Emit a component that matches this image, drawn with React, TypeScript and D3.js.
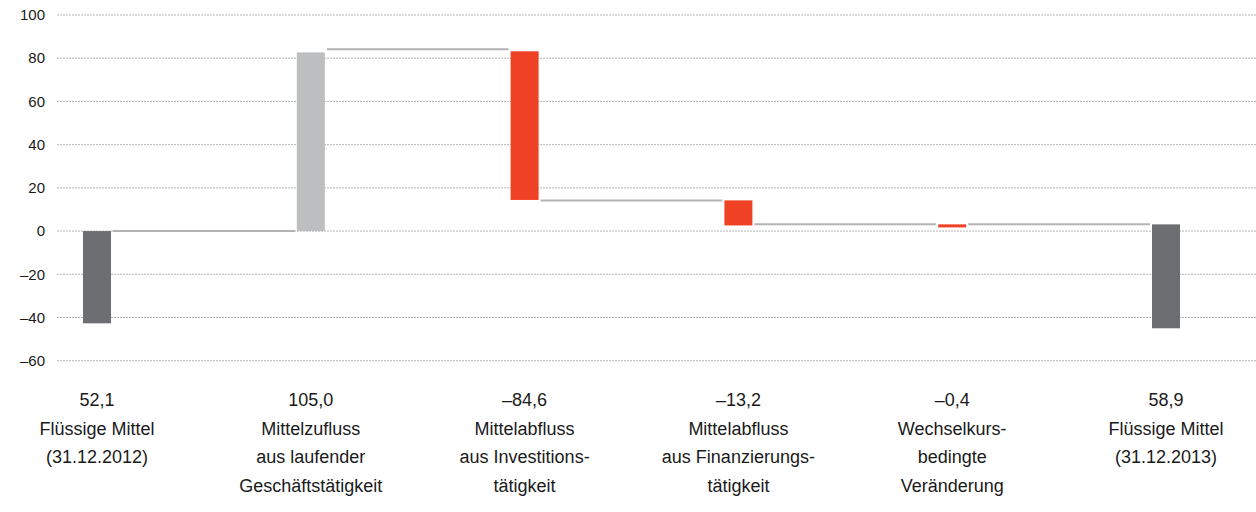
import React, { useEffect } from 'react';
import * as d3 from 'd3';

// waterfall: Kapitalflussrechnung (Mio. EUR)
const categories = ['fm2012', 'zufluss', 'invest', 'finanz', 'fx', 'fm2013'];
const valueLabels = ['52,1', '105,0', '\u201384,6', '\u201313,2', '\u20130,4', '58,9'];
const nameLines = [
  ['Flüssige Mittel', '(31.12.2012)'],
  ['Mittelzufluss', 'aus laufender', 'Geschäftstätigkeit'],
  ['Mittelabfluss', 'aus Investitions-', 'tätigkeit'],
  ['Mittelabfluss', 'aus Finanzierungs-', 'tätigkeit'],
  ['Wechselkurs-', 'bedingte', 'Veränderung'],
  ['Flüssige Mittel', '(31.12.2013)'],
];
// bar extents as drawn in the picture
const barFrom = [0, 0, 83.2, 14.2, 3.1, 3.1];
const barTo = [-42.7, 82.7, 14.4, 2.6, 1.7, -45];
const barKind = ['total', 'plus', 'minus', 'minus', 'minus', 'total'];
const connectorLevels = [0, 84.1, 14.2, 3.1, 3.1];
const yTicks = [100, 80, 60, 40, 20, 0, -20, -40, -60];

const colors: Record<string, string> = {
  total: '#6d6e71',
  plus: '#bcbec0',
  minus: '#ef4123',
};

const W = 1256;
const H = 512;
const FONT = '"Liberation Sans", Arial, Helvetica, sans-serif';

export default function App() {
  useEffect(() => {
    document.body.style.margin = '0';
  }, []);

  const x = d3.scalePoint<string>().domain(categories).range([97, 1166]);
  const y = d3.scaleLinear().domain([-60, 100]).range([360.7, 15]);
  const barW = 28;
  const fmt = (v: number) => (v < 0 ? '\u2013' + Math.abs(v) : String(v));

  return (
    <svg width={W} height={H} style={{ display: 'block', fontFamily: FONT }}>
      <g>
        {yTicks.map((t) => (
          <g key={t}>
            <line
              x1={57}
              x2={W}
              y1={y(t)}
              y2={y(t)}
              stroke="#b5b5b5"
              strokeWidth={1}
              strokeDasharray="2,1"
            />
            <text x={45} y={y(t)} dy="0.35em" textAnchor="end" fontSize={15} fill="#1a1a1a">
              {fmt(t)}
            </text>
          </g>
        ))}
      </g>
      <g>
        {connectorLevels.map((lv, i) => (
          <line
            key={i}
            x1={x(categories[i])! + barW / 2 + 2}
            x2={x(categories[i + 1])! - barW / 2 - 2}
            y1={y(lv)}
            y2={y(lv)}
            stroke="#b3b3b3"
            strokeWidth={2}
          />
        ))}
      </g>
      <g>
        {categories.map((c, i) => {
          const y0 = y(Math.max(barFrom[i], barTo[i]));
          const y1 = y(Math.min(barFrom[i], barTo[i]));
          return (
            <rect
              key={c}
              x={x(c)! - barW / 2}
              y={y0}
              width={barW}
              height={y1 - y0}
              fill={colors[barKind[i]]}
            />
          );
        })}
      </g>
      <g fontSize={18} fill="#1a1a1a" textAnchor="middle">
        {categories.map((c, i) => (
          <text key={c} x={x(c)!} y={406}>
            <tspan x={x(c)!}>{valueLabels[i]}</tspan>
            {nameLines[i].map((ln, j) => (
              <tspan key={j} x={x(c)!} y={406 + 28.5 * (j + 1)}>
                {ln}
              </tspan>
            ))}
          </text>
        ))}
      </g>
    </svg>
  );
}
